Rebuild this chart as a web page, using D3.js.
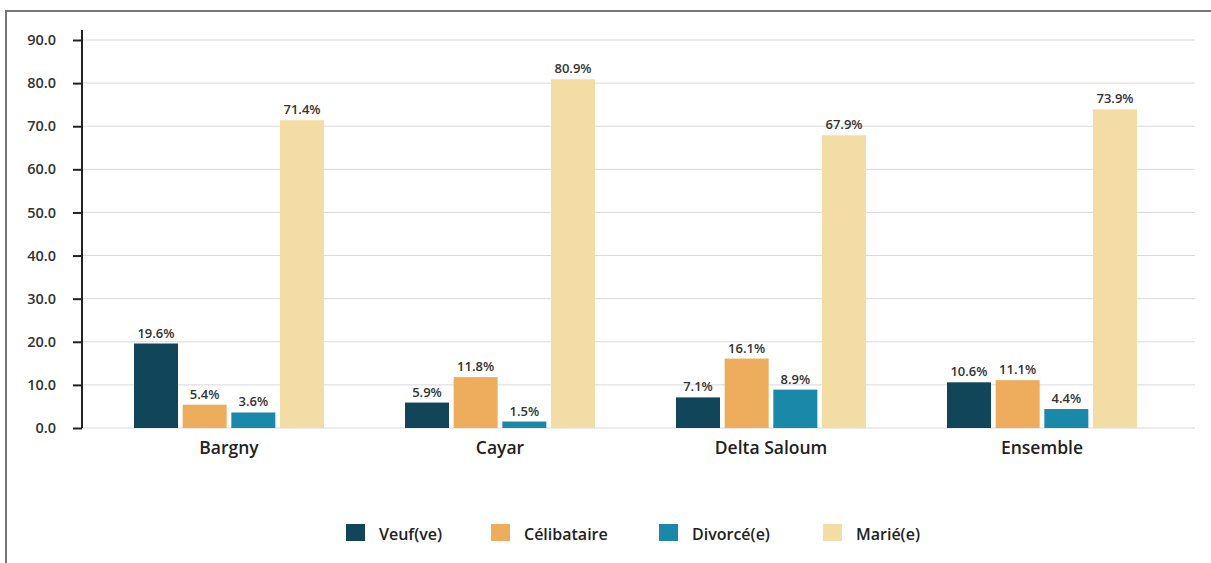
<!DOCTYPE html>
<html><head><meta charset="utf-8">
<script src="https://cdn.jsdelivr.net/npm/d3@7"></script>
<style>
body{margin:0;background:#fff;}
svg{display:block;font-family:"Open Sans",sans-serif;}
</style></head>
<body><svg id="c" width="1211" height="563"></svg>
<script>
const categories = ["Bargny","Cayar","Delta Saloum","Ensemble"];
const seriesNames = ["Veuf(ve)","Célibataire","Divorcé(e)","Marié(e)"];
const veuf = [19.6,5.9,7.1,10.6];
const celibataire = [5.4,11.8,16.1,11.1];
const divorce = [3.6,1.5,8.9,4.4];
const marie = [71.4,80.9,67.9,73.9];
const yTicks = [0,10,20,30,40,50,60,70,80,90];
const colors = ["#114559","#EDAD5C","#1A88A8","#F4DCA5"];

const series = [veuf,celibataire,divorce,marie];
const svg = d3.select("#c");

// frame
svg.append("line").attr("x1",6).attr("x2",1211).attr("y1",11).attr("y2",11).attr("stroke","#777").attr("stroke-width",2);
svg.append("line").attr("x1",6).attr("x2",6).attr("y1",10).attr("y2",563).attr("stroke","#777").attr("stroke-width",2);

const y = d3.scaleLinear().domain([0,90]).range([428,40]);
const x0 = d3.scaleBand().domain(categories).range([93.5,1177.5]).paddingInner(0).paddingOuter(0);
const x1 = d3.scaleBand().domain(seriesNames).range([0,190]).paddingInner(0.096).paddingOuter(0);

// grid
svg.append("g").selectAll("line").data(yTicks).join("line")
  .attr("x1",82).attr("x2",1195).attr("y1",d=>y(d)).attr("y2",d=>y(d))
  .attr("stroke","#d9d9d9").attr("stroke-width",1);

// axis
const ax = svg.append("g").attr("transform","translate(82,0)")
  .call(d3.axisLeft(y).tickValues(yTicks).tickFormat(d3.format(".1f")).tickSize(9).tickPadding(17));
ax.select(".domain").attr("d","M0,30V428").attr("stroke","#222").attr("stroke-width",2);
ax.selectAll(".tick line").attr("stroke","#222").attr("stroke-width",2);
ax.selectAll(".tick text").attr("fill","#333").style("font-size","14.5px").style("font-weight","600").style("font-family","'Open Sans', sans-serif");

// bars
const groups = svg.append("g").selectAll("g").data(categories).join("g")
  .attr("transform",d=>`translate(${x0(d)+x0.bandwidth()/2-95},0)`);
groups.each(function(cat,ci){
  const g = d3.select(this);
  const data = seriesNames.map((s,si)=>({s,si,v:series[si][ci]}));
  g.selectAll("rect").data(data).join("rect")
    .attr("x",d=>x1(d.s)).attr("width",x1.bandwidth())
    .attr("y",d=>y(d.v)).attr("height",d=>y(0)-y(d.v))
    .attr("fill",d=>colors[d.si]);
  g.selectAll("text").data(data).join("text")
    .attr("x",d=>x1(d.s)+x1.bandwidth()/2).attr("y",d=>y(d.v)-6)
    .attr("text-anchor","middle").attr("fill","#333")
    .style("font-size","13px").style("font-weight","600")
    .text(d=>d.v.toFixed(1)+"%");
});

// category labels
svg.append("g").selectAll("text").data(categories).join("text")
  .attr("x",d=>x0(d)+x0.bandwidth()/2).attr("y",454)
  .attr("text-anchor","middle").attr("fill","#222")
  .style("font-size","17.5px").style("font-weight","600").text(d=>d);

// legend
const legX = [346,491,659,823];
const leg = svg.append("g").selectAll("g").data(seriesNames).join("g")
  .attr("transform",(d,i)=>`translate(${legX[i]},524)`);
leg.append("rect").attr("width",19).attr("height",17).attr("fill",(d,i)=>colors[i]);
leg.append("text").attr("x",33).attr("y",16).attr("fill","#222")
  .style("font-size","16px").style("font-weight","600").text(d=>d);
</script></body></html>
